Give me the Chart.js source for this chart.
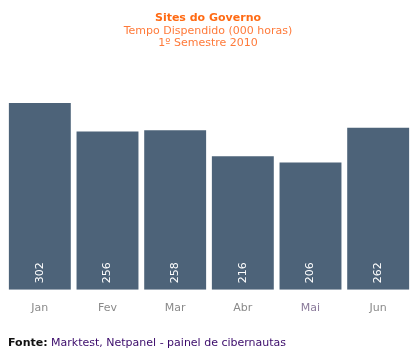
<!DOCTYPE html>
<html>
<head>
<meta charset="utf-8">
<script src="https://cdn.jsdelivr.net/npm/chart.js@4/dist/chart.umd.min.js"></script>
<style>
html,body{margin:0;padding:0;background:#fff;}
#wrap{width:416px;height:357px;position:relative;}
</style>
</head>
<body>
<div id="wrap"><canvas id="c" width="416" height="357"></canvas></div>
<script>
const categories = ["Jan", "Fev", "Mar", "Abr", "Mai", "Jun"];
const values = [302, 256, 258, 216, 206, 262];
const titleText = "Sites do Governo";
const subtitleLines = ["Tempo Dispendido (000 horas)", "1º Semestre 2010"];
const sourceLabel = "Fonte:";
const sourceText = " Marktest, Netpanel - painel de cibernautas";

const FONT = "'DejaVu Sans', Verdana, sans-serif";

const decorPlugin = {
  id: 'decor',
  afterDatasetsDraw(chart) {
    const ctx = chart.ctx;
    const meta = chart.getDatasetMeta(0);
    ctx.save();
    ctx.fillStyle = '#ffffff';
    ctx.font = '11px ' + FONT;
    ctx.textAlign = 'center';
    ctx.textBaseline = 'middle';
    meta.data.forEach((bar, i) => {
      ctx.save();
      ctx.translate(bar.x, bar.base - 17);
      ctx.rotate(-Math.PI / 2);
      ctx.fillText(String(values[i]), 0, 0);
      ctx.restore();
    });
    ctx.restore();
  },
  afterDraw(chart) {
    const ctx = chart.ctx;
    const cx = chart.width / 2;
    ctx.save();
    ctx.textAlign = 'center';
    ctx.textBaseline = 'middle';
    ctx.fillStyle = '#ff6a13';
    ctx.font = 'bold 11px ' + FONT;
    ctx.fillText(titleText, cx, 18);
    ctx.fillStyle = '#ff7a3a';
    ctx.font = '11px ' + FONT;
    subtitleLines.forEach((t, i) => ctx.fillText(t, cx, 31 + i * 12.5));
    ctx.textAlign = 'left';
    ctx.font = 'bold 11px ' + FONT;
    ctx.fillStyle = '#111111';
    ctx.fillText(sourceLabel, 8, 343);
    const w = ctx.measureText(sourceLabel).width;
    ctx.font = '11px ' + FONT;
    ctx.fillStyle = '#3a0a6a';
    ctx.fillText(sourceText, 8 + w, 343);
    ctx.restore();
  }
};

new Chart(document.getElementById('c'), {
  type: 'bar',
  data: {
    labels: categories,
    datasets: [{
      data: values,
      backgroundColor: '#4d6379',
      borderWidth: 0,
      barPercentage: 0.915,
      categoryPercentage: 1.0
    }]
  },
  options: {
    responsive: false,
    animation: false,
    devicePixelRatio: 1,
    layout: { padding: { left: 6, right: 4, top: 103, bottom: 30 } },
    plugins: {
      legend: { display: false },
      tooltip: { enabled: false },
      title: { display: false }
    },
    scales: {
      x: {
        grid: { display: false, drawTicks: false },
        border: { display: false },
        ticks: {
          color: ['#8a8a8a', '#8a8a8a', '#8a8a8a', '#8a8a8a', '#8a7a9a', '#8a8a8a'],
          font: { family: FONT, size: 11 },
          padding: 12,
          maxRotation: 0
        }
      },
      y: {
        display: false,
        min: 0,
        max: 302
      }
    }
  },
  plugins: [decorPlugin]
});
</script>
</body>
</html>
